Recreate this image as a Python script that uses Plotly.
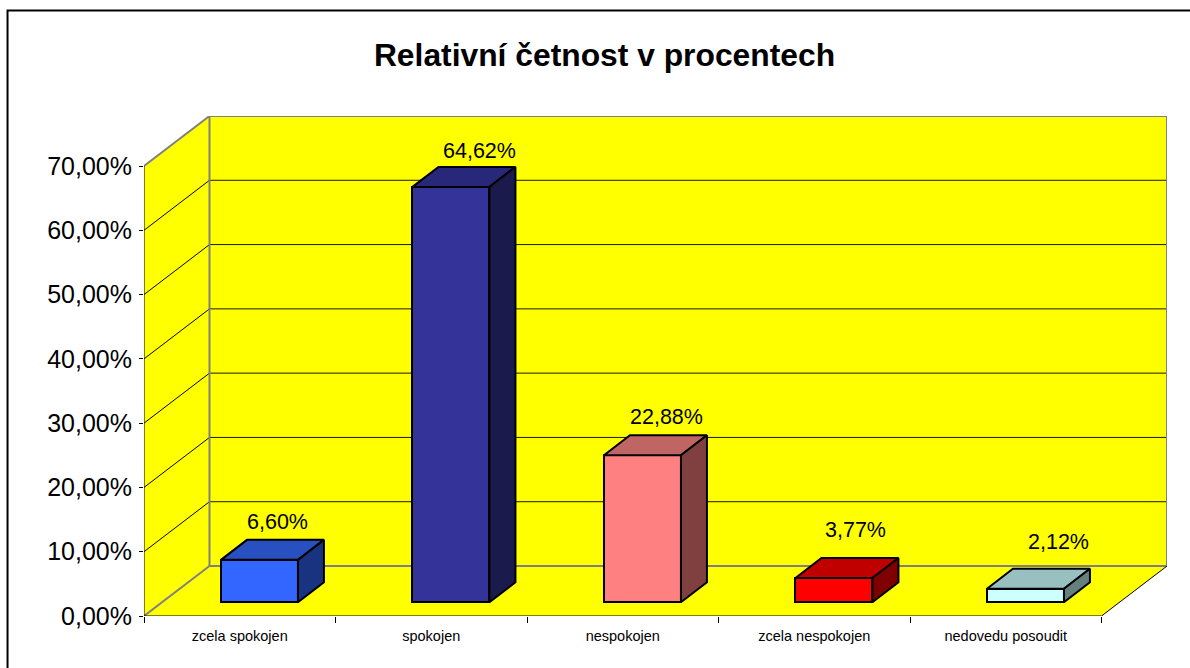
import plotly.graph_objects as go

# ---------- data ----------
categories = ["zcela spokojen", "spokojen", "nespokojen", "zcela nespokojen", "nedovedu posoudit"]
values = [6.60, 64.62, 22.88, 3.77, 2.12]
value_labels = ["6,60%", "64,62%", "22,88%", "3,77%", "2,12%"]
y_ticks = [0, 10, 20, 30, 40, 50, 60, 70]
y_tick_labels = ["0,00%", "10,00%", "20,00%", "30,00%", "40,00%", "50,00%", "60,00%", "70,00%"]

front_colors = ["#3366FF", "#333399", "#FF8080", "#FF0000", "#CCFFFF"]
top_colors = ["#2850C0", "#28287A", "#C06464", "#C00000", "#99C0C0"]
side_colors = ["#1A3380", "#1A1A4D", "#804040", "#800000", "#668080"]

# ---------- layout constants (pixels) ----------
W, H = 1190, 668
X0, X1 = 144.0, 1101.7          # front edge of floor
Y0, Y70 = 616.0, 166.0          # front wall: 0 % and 70 %
WALL_DX, WALL_DY = 65.5, 50.0   # chart depth
BAR_W = 77.0
BAR_FRONT_DX, BAR_FRONT_DY = 19.7, 13.7
BAR_DX, BAR_DY = 26.0, 20.0
LABEL_DX = [5.5, 16, 11, 9, 20]
LABEL_DY = [18, 16, 18, 28, 27]

ux = (X1 - X0) / len(categories)    # px per category
uy = (Y0 - Y70) / y_ticks[-1]       # px per percent
n = len(categories)
ymax = y_ticks[-1]
wdx, wdy = WALL_DX / ux, WALL_DY / uy
fdx, fdy = BAR_FRONT_DX / ux, BAR_FRONT_DY / uy
bdx, bdy = BAR_DX / ux, BAR_DY / uy
bw = BAR_W / ux

FONT = "Liberation Sans, Arial, sans-serif"
fig = go.Figure()
shapes = []


def poly(xs, ys, fill):
    path = "M " + " L ".join(f"{a},{b}" for a, b in zip(xs, ys)) + " Z"
    shapes.append(dict(type="path", path=path, xref="x", yref="y", fillcolor=fill,
                       line=dict(width=0), layer="below"))


def seg(x0, y0, x1, y1, color, width, layer="below"):
    shapes.append(dict(type="line", x0=x0, y0=y0, x1=x1, y1=y1, xref="x", yref="y",
                       line=dict(color=color, width=width), layer=layer))


# walls and floor
poly([wdx, n + wdx, n + wdx, wdx], [wdy, wdy, ymax + wdy, ymax + wdy], "#FFFF00")
poly([0, wdx, wdx, 0], [0, wdy, ymax + wdy, ymax], "#FFFF00")
poly([0, n, n + wdx, wdx], [0, 0, wdy, wdy], "#FFFF00")

# gridlines
for t in y_ticks[1:-1]:
    seg(0, t, wdx, t + wdy, "#000000", 1)
    seg(wdx, t + wdy, n + wdx, t + wdy, "#1a1a00", 1)

# wall edges
seg(wdx, wdy, n + wdx, wdy, "#808080", 2)
seg(wdx, ymax + wdy, n + wdx, ymax + wdy, "#808080", 2)
seg(wdx, wdy, wdx, ymax + wdy, "#808080", 2)
seg(n + wdx, wdy, n + wdx, ymax + wdy, "#808080", 2)
seg(0, ymax, wdx, ymax + wdy, "#808080", 2)
seg(0, 0, wdx, wdy, "#808080", 2)
seg(n, 0, n + wdx, wdy, "#000000", 1)
seg(0, 0, n, 0, "#000000", 1)
seg(0, 0, 0, ymax, "#000000", 1)

# chart frame runs off the right and bottom of the picture
plot_w = (X1 + WALL_DX) - X0
plot_h = Y0 - (Y70 - WALL_DY)
fx = lambda p: (p - X0) / plot_w
fy = lambda p: (Y0 - p) / plot_h
shapes.append(dict(type="path", xref="paper", yref="paper",
                   path=f"M {fx(7.5)},{fy(H + 5)} L {fx(7.5)},{fy(10.5)} L {fx(W + 5)},{fy(10.5)}",
                   line=dict(color="#000000", width=2), layer="below"))

centers = [i + 0.5 + fdx for i in range(n)]

# front faces
fig.add_trace(go.Bar(x=centers, y=values, base=[fdy] * n, width=bw,
                     marker=dict(color=front_colors, line=dict(color="#000000", width=2)),
                     hoverinfo="skip", showlegend=False))

# top and side faces
for c, v, tc, sc in zip(centers, values, top_colors, side_colors):
    l, r = c - bw / 2, c + bw / 2
    b, t = fdy, fdy + v
    fig.add_trace(go.Scatter(x=[l, r, r + bdx, l + bdx, l], y=[t, t, t + bdy, t + bdy, t],
                             mode="lines", fill="toself", fillcolor=tc,
                             line=dict(color="#000000", width=2), cliponaxis=False,
                             hoverinfo="skip", showlegend=False))
    fig.add_trace(go.Scatter(x=[r, r + bdx, r + bdx, r, r], y=[b, b + bdy, t + bdy, t, b],
                             mode="lines", fill="toself", fillcolor=sc,
                             line=dict(color="#000000", width=2), cliponaxis=False,
                             hoverinfo="skip", showlegend=False))

# value labels
annotations = []
for c, v, txt, dx, dy in zip(centers, values, value_labels, LABEL_DX, LABEL_DY):
    annotations.append(dict(x=c + bdx / 2, y=fdy + v + bdy, text=txt, showarrow=False,
                            xanchor="center", yanchor="middle", xshift=dx, yshift=dy,
                            font=dict(family=FONT, size=21.5, color="#000000")))

fig.update_layout(
    width=W, height=H, autosize=False,
    margin=dict(l=X0, r=W - X1 - WALL_DX, t=Y70 - WALL_DY, b=H - Y0, pad=0),
    paper_bgcolor="#FFFFFF", plot_bgcolor="rgba(0,0,0,0)",
    showlegend=False, bargap=0,
    title=dict(text="<b>Relativní četnost v procentech</b>", x=604.5 / W, xanchor="center",
               y=1 - 55 / H, yanchor="middle",
               font=dict(family=FONT, size=31.8, color="#000000")),
    shapes=shapes, annotations=annotations,
    xaxis=dict(range=[0, n + wdx], tickmode="array",
               tickvals=[i + 0.5 for i in range(n)], ticktext=categories,
               ticks="", showgrid=False, zeroline=False, showline=False,
               ticklabelstandoff=9,
               tickfont=dict(family=FONT, size=14.5, color="#000000"),
               minor=dict(tickmode="array", tickvals=list(range(n + 1)), ticks="outside",
                          ticklen=6, tickcolor="#000000", tickwidth=1, showgrid=False)),
    yaxis=dict(range=[0, ymax + wdy], tickmode="array", tickvals=y_ticks,
               ticktext=y_tick_labels, ticks="outside", ticklen=4, tickcolor="#000000",
               tickwidth=1, showgrid=False, zeroline=False, showline=False,
               ticklabelstandoff=2,
               tickfont=dict(family=FONT, size=25, color="#000000")),
)

fig.write_html("out.html", config=dict(displayModeBar=False),
               post_script="document.body.style.margin='0';document.body.style.overflow='hidden';")
